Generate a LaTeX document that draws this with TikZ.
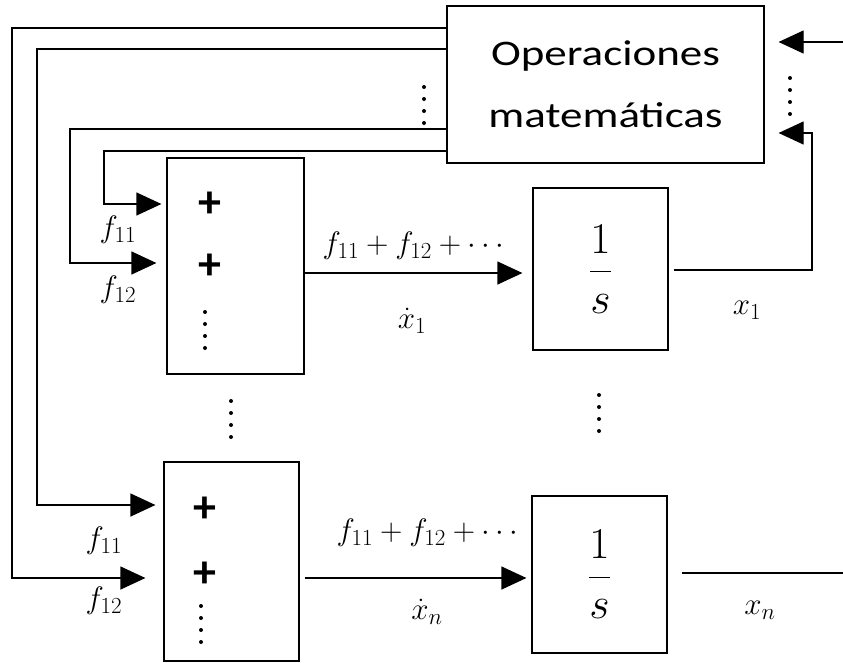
\RequirePackage{fix-cm}
\documentclass[tikz,border=0pt]{standalone}
\usepackage{amsmath}
\usepackage{fontspec}
\usetikzlibrary{arrows.meta,positioning,calc}
\newfontfamily\calibfont{Carlito}
\newfontfamily\opsfont[FakeStretch=1.25]{Carlito}
\DeclareMathSizes{31}{31}{23}{16}

\tikzset{
  blk/.style={draw,line width=1.2pt,inner sep=0pt},
  intbox/.style={blk,minimum width=135pt,font=\fontsize{44}{50}\selectfont},
  sig/.style={line width=1.2pt,-{Triangle[length=25pt,width=23pt]}},
  wire/.style={line width=1.2pt},
  lbl/.style={font=\fontsize{31}{34}\selectfont},
  plussign/.style={font=\calibfont\bfseries\fontsize{46}{50}\selectfont},
}

\begin{document}
\begin{tikzpicture}[x=1pt,y=-1pt]
\useasboundingbox (0,0) rectangle (843,662);
% blocks
\node[blk,minimum width=317pt,minimum height=157pt,align=center,font=\opsfont\fontsize{36}{62}\selectfont] (ops) at (605.5,84.5) {Operaciones\\matemáticas};
\node[blk,minimum width=137pt,minimum height=216pt] (sum1) at (235.5,266) {};
\node[blk,minimum width=135pt,minimum height=199pt] (sum2) at (231.5,561.5) {};
\node[intbox,minimum height=162pt] (int1) at (600.5,269) {$\dfrac{1}{s}$};
\node[intbox,minimum height=157pt] (int2) at (599.5,574.5) {$\dfrac{1}{s}$};
\node[plussign] (p11) at (210,205) {+};
\node[plussign] (p12) at (210,267) {+};
\node[plussign] (p21) at (205,510) {+};
\node[plussign] (p22) at (205,575) {+};
% feedback from the operations block
\draw[sig,shorten >=18pt] (ops.west |- 0,28) -| (12,578) -- (sum2.west |- 0,578);
\draw[sig,shorten >=8pt] (ops.west |- 0,49) -| (37,505) -- (sum2.west |- 0,505);
\draw[sig,shorten >=10pt] (ops.west |- 0,129) -| (70,263) -- (sum1.west |- 0,263);
\draw[sig,shorten >=5pt] (ops.west |- 0,151) -| (104,204) -- (sum1.west |- 0,204);
\node[lbl] (f11a) at (118,230) {$f_{11}$};
\node[lbl] (f12a) at (118,290) {$f_{12}$};
\node[lbl] (f11b) at (104,541) {$f_{11}$};
\node[lbl] (f12b) at (104,601) {$f_{12}$};
% sums into integrators
\draw[sig,shorten >=10pt] (sum1.east |- 0,273) -- (int1.west |- 0,273);
\node[lbl] (s1txt) at (416,246) {$f_{11}+f_{12}+\cdots$};
\node[lbl] (dx1) at (412,321) {$\dot{x}_1$};
\draw[sig,shorten <=5pt,shorten >=5pt] (sum2.east |- 0,578) -- (int2.west |- 0,578);
\node[lbl] (s2txt) at (430,533) {$f_{11}+f_{12}+\cdots$};
\node[lbl] (dxn) at (427,612) {$\dot{x}_n$};
% states
\draw[sig,shorten <=5pt,shorten >=14pt] (int1.east |- 0,270) -| (812,133) -- (ops.east |- 0,133);
\node[lbl] (x1) at (747,310) {$x_1$};
\coordinate (xin) at (843,42);
\draw[sig,shorten >=14pt] (xin) -- (ops.east |- xin);
\coordinate (xout) at (843,573);
\draw[wire,shorten <=14pt] (int2.east |- xout) -- (xout);
\node[lbl] (xn) at (760,610) {$x_n$};
% vertical dots
\foreach \px/\py in {424/87,790/78,205/312,231/401,599/395,201/606}
  \foreach \k in {0,...,3}
    \fill (\px,\py+12*\k) circle (2);
\end{tikzpicture}
\end{document}
